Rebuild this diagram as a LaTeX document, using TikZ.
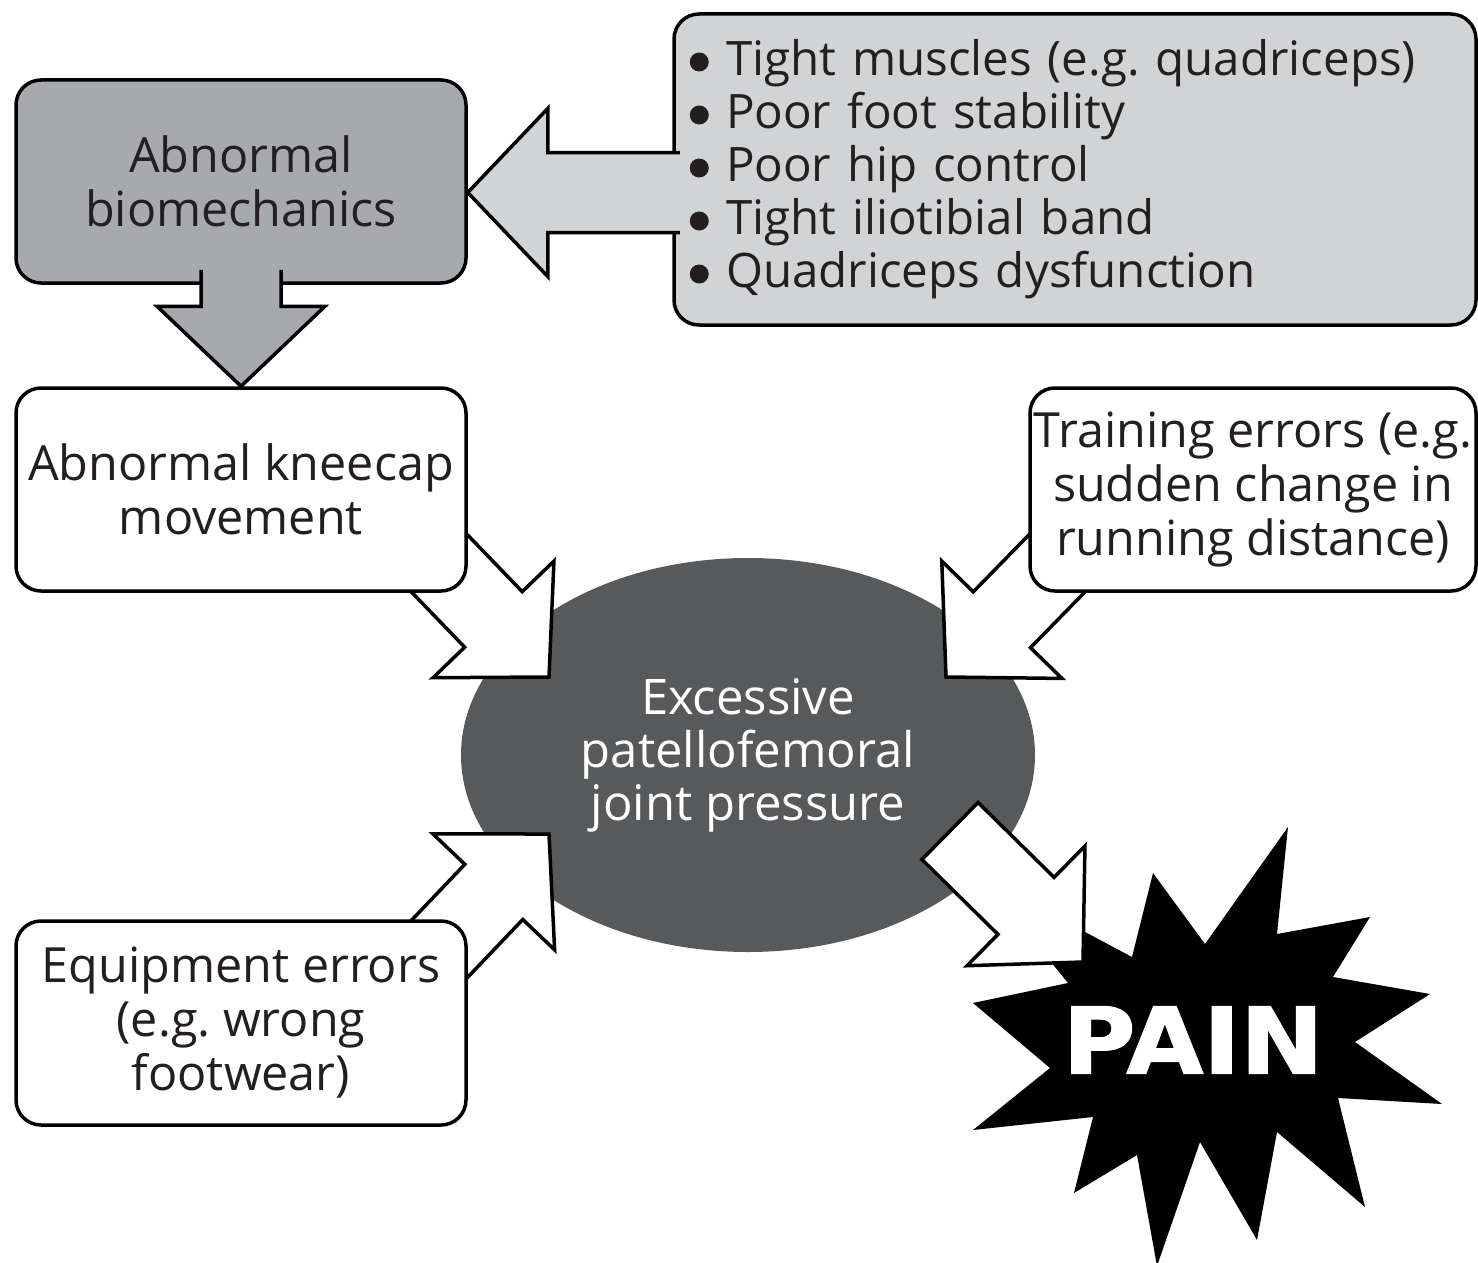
\documentclass[tikz,border=0pt]{standalone}
\usepackage{fontspec}
\setmainfont{Open Sans}
\newfontfamily\painfont{DejaVu Sans}[BoldFeatures={FakeBold=1.5}]
\usetikzlibrary{calc,shapes.geometric}
\frenchspacing

\definecolor{boxgray}{HTML}{A7A9AC}
\definecolor{panelgray}{HTML}{D1D3D4}
\definecolor{jointgray}{HTML}{58595B}
\definecolor{inkblack}{HTML}{231F20}

\pgfdeclarelayer{back}
\pgfdeclarelayer{mid}
\pgfdeclarelayer{front}
\pgfsetlayers{back,mid,main,front}

\tikzset{
  outline/.style={draw=black, line width=3.5pt, line join=miter},
  box/.style={draw=black, line width=3.5pt, rounded corners=25pt, fill=white,
    minimum width=450pt, minimum height=203pt, inner sep=1pt, align=center,
    text=inkblack, font=\fontsize{48.5}{54}\selectfont},
  panel/.style={box, fill=panelgray, text width=786pt, inner xsep=8pt,
    minimum height=311pt, align=left, font=\fontsize{47.5}{53}\selectfont},
  joint/.style={ellipse, fill=jointgray, minimum width=574pt, minimum height=394pt,
    inner sep=0pt, align=center, text=white, font=\fontsize{49}{53}\selectfont},
  paintext/.style={text=white, inner sep=0pt, xscale=1.08,
    font=\painfont\bfseries\fontsize{92}{92}\selectfont}
}

% room for the list bullets
\newcommand{\bul}{\hspace*{44pt}}

% block arrow: [#1 close], #2 fill, #3 tail, #4 tip
\newcommand{\blockarrow}[4][]{%
  \coordinate (ba-h) at ($(#4)!80pt!(#3)$);
  \coordinate (ba-1) at ($(#3)!40pt!90:(#4)$);
  \coordinate (ba-2) at ($(ba-h)!40pt!90:(#4)$);
  \coordinate (ba-3) at ($(ba-h)!84pt!90:(#4)$);
  \coordinate (ba-4) at ($(ba-h)!84pt!-90:(#4)$);
  \coordinate (ba-5) at ($(ba-h)!40pt!-90:(#4)$);
  \coordinate (ba-6) at ($(#3)!40pt!-90:(#4)$);
  \fill[#2] (ba-1) -- (ba-2) -- (ba-3) -- (#4) -- (ba-4) -- (ba-5) -- (ba-6) -- cycle;
  \draw[outline] (ba-1) -- (ba-2) -- (ba-3) -- (#4) -- (ba-4) -- (ba-5) -- (ba-6) #1;
}

\begin{document}
\begin{tikzpicture}[x=1pt,y=-1pt]
  \useasboundingbox (0,0) rectangle (1478,1263);

  % boxes
  \node (biomech) [box, fill=boxgray] at (241,181.5) {Abnormal\\biomechanics};
  \node (risk) [panel] at (1075,169.5) {%
    \bul Tight muscles (e.g. quadriceps)\\
    \bul Poor foot stability\\
    \bul Poor hip control\\
    \bul Tight iliotibial band\\
    \bul Quadriceps dysfunction};
  \foreach \i in {0,...,4}
    \fill[inkblack] ($(risk.west)+(27,-107.5+53*\i)$) circle (9.5);
  \node (kneecap) [box] at (241,489.5) {Abnormal kneecap\\movement};
  \node (training) [box, minimum width=446pt] at (1253,489.5)
    {Training errors (e.g.\\sudden change in\\running distance)};
  \node (equipment) [box, minimum height=204pt] at (241,1023)
    {Equipment errors\\(e.g. wrong\\footwear)};
  \node (pain) [paintext] at (1193,1040) {PAIN};

  \begin{pgfonlayer}{back}
    % burst behind PAIN
    \fill[black] (1288,827) -- (1277,934) -- (1370,917) -- (1333,977) -- (1430,994)
      -- (1355,1042) -- (1442,1104) -- (1338,1098) -- (1365,1207) -- (1277,1132)
      -- (1257,1240) -- (1200,1142) -- (1157,1266) -- (1137,1155) -- (1074,1193)
      -- (1093,1117) -- (973,1130) -- (1050,1068) -- (973,1003) -- (1068,983)
      -- (982,877) -- (1132,957) -- (1153,873) -- (1205,944) -- cycle;
    \node (pfj) [joint] at (748,755) {Excessive\\patellofemoral\\joint pressure};
  \end{pgfonlayer}

  \coordinate (in-kc) at ($(pfj)+(-199,-78)$);
  \coordinate (in-tr) at ($(pfj)+(198,-78)$);
  \coordinate (in-eq) at ($(pfj)+(-199,79)$);
  \coordinate (kc-out) at ($(in-kc)!2!(kneecap.south east)$);
  \coordinate (tr-out) at ($(in-tr)!2!(training.south west)$);
  \coordinate (eq-out) at ($(in-eq)!2!(equipment.north east)$);
  \coordinate (pfj-out) at ($(pfj)+(202,76)$);
  \coordinate (pain-in) at ($(pain)+(-110,-78)$);
  \coordinate (bm-in) at ($(biomech.east)+(0,11)$);
  \coordinate (risk-out) at ($(biomech.east)+(212,11)$);
  \coordinate (bm-out) at ($(biomech.south)+(0,-15)$);

  \begin{pgfonlayer}{mid}
    \blockarrow{white}{kc-out}{in-kc}
    \blockarrow{white}{tr-out}{in-tr}
    \blockarrow{white}{eq-out}{in-eq}
    \blockarrow[-- cycle]{white}{pfj-out}{pain-in}
  \end{pgfonlayer}

  \begin{pgfonlayer}{front}
    \blockarrow{panelgray}{risk-out}{bm-in}
    \blockarrow{boxgray}{bm-out}{kneecap.north}
  \end{pgfonlayer}
\end{tikzpicture}
\end{document}
